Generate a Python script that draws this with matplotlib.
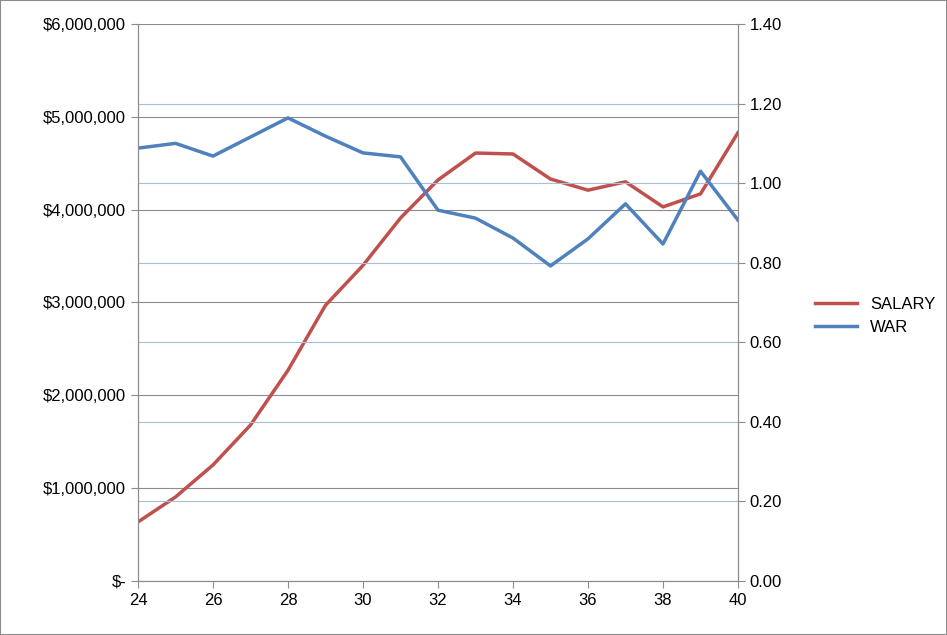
import matplotlib
matplotlib.use("Agg")
import matplotlib.pyplot as plt
from matplotlib.ticker import FuncFormatter, MultipleLocator

ages = list(range(24, 41))
salary = [636000, 905000, 1250000, 1680000, 2270000, 2970000, 3400000, 3910000, 4320000,
          4610000, 4600000, 4330000, 4210000, 4300000, 4030000, 4170000, 4830000]
war = [1.088, 1.10, 1.068, 1.116, 1.164, 1.118, 1.076, 1.066, 0.932, 0.912, 0.862,
       0.792, 0.860, 0.948, 0.847, 1.030, 0.907]

plt.rcParams["font.family"] = "Liberation Sans"
fig = plt.figure(figsize=(9.47, 6.35), dpi=100)
ax = fig.add_axes([138/947, 1-581/635, 600/947, 557/635])
ax2 = ax.twinx()

ax.set_ylim(0, 6000000)
ax2.set_ylim(0, 1.4)
ax.set_xlim(24, 40)
ax.yaxis.set_major_locator(MultipleLocator(1000000))
ax2.yaxis.set_major_locator(MultipleLocator(0.2))
ax.xaxis.set_major_locator(MultipleLocator(2))
ax.grid(axis="y", color="#8c8c8c", lw=0.8)
for v in [0.2, 0.4, 0.6, 0.8, 1.0, 1.2]:
    ax2.axhline(v, color="#a9bfd9", lw=0.8, zorder=0)
ax.set_axisbelow(True)

ax.yaxis.set_major_formatter(FuncFormatter(lambda v, p: "$-" if v == 0 else f"${v:,.0f}"))
ax2.yaxis.set_major_formatter(FuncFormatter(lambda v, p: f"{v:.2f}"))

l1, = ax.plot(ages, salary, color="#c0504d", lw=2.5, label="SALARY")
l2, = ax2.plot(ages, war, color="#4f81bd", lw=2.5, label="WAR")

for a in (ax, ax2):
    a.tick_params(labelsize=12, color="#8c8c8c", length=5)
    for s in a.spines.values():
        s.set_color("#8c8c8c")
ax.spines["top"].set_visible(False)
ax2.spines["top"].set_visible(False)

fig.legend([l1, l2], ["SALARY", "WAR"], loc="center left", bbox_to_anchor=(800/947, 1-316/635),
           frameon=False, fontsize=12, handlelength=2.5)
fig.patches.append(plt.Rectangle((0, 0), 1, 1, transform=fig.transFigure, fill=False,
                                 edgecolor="#8c8c8c", lw=1.5))
fig.savefig("out.png", dpi=100)
